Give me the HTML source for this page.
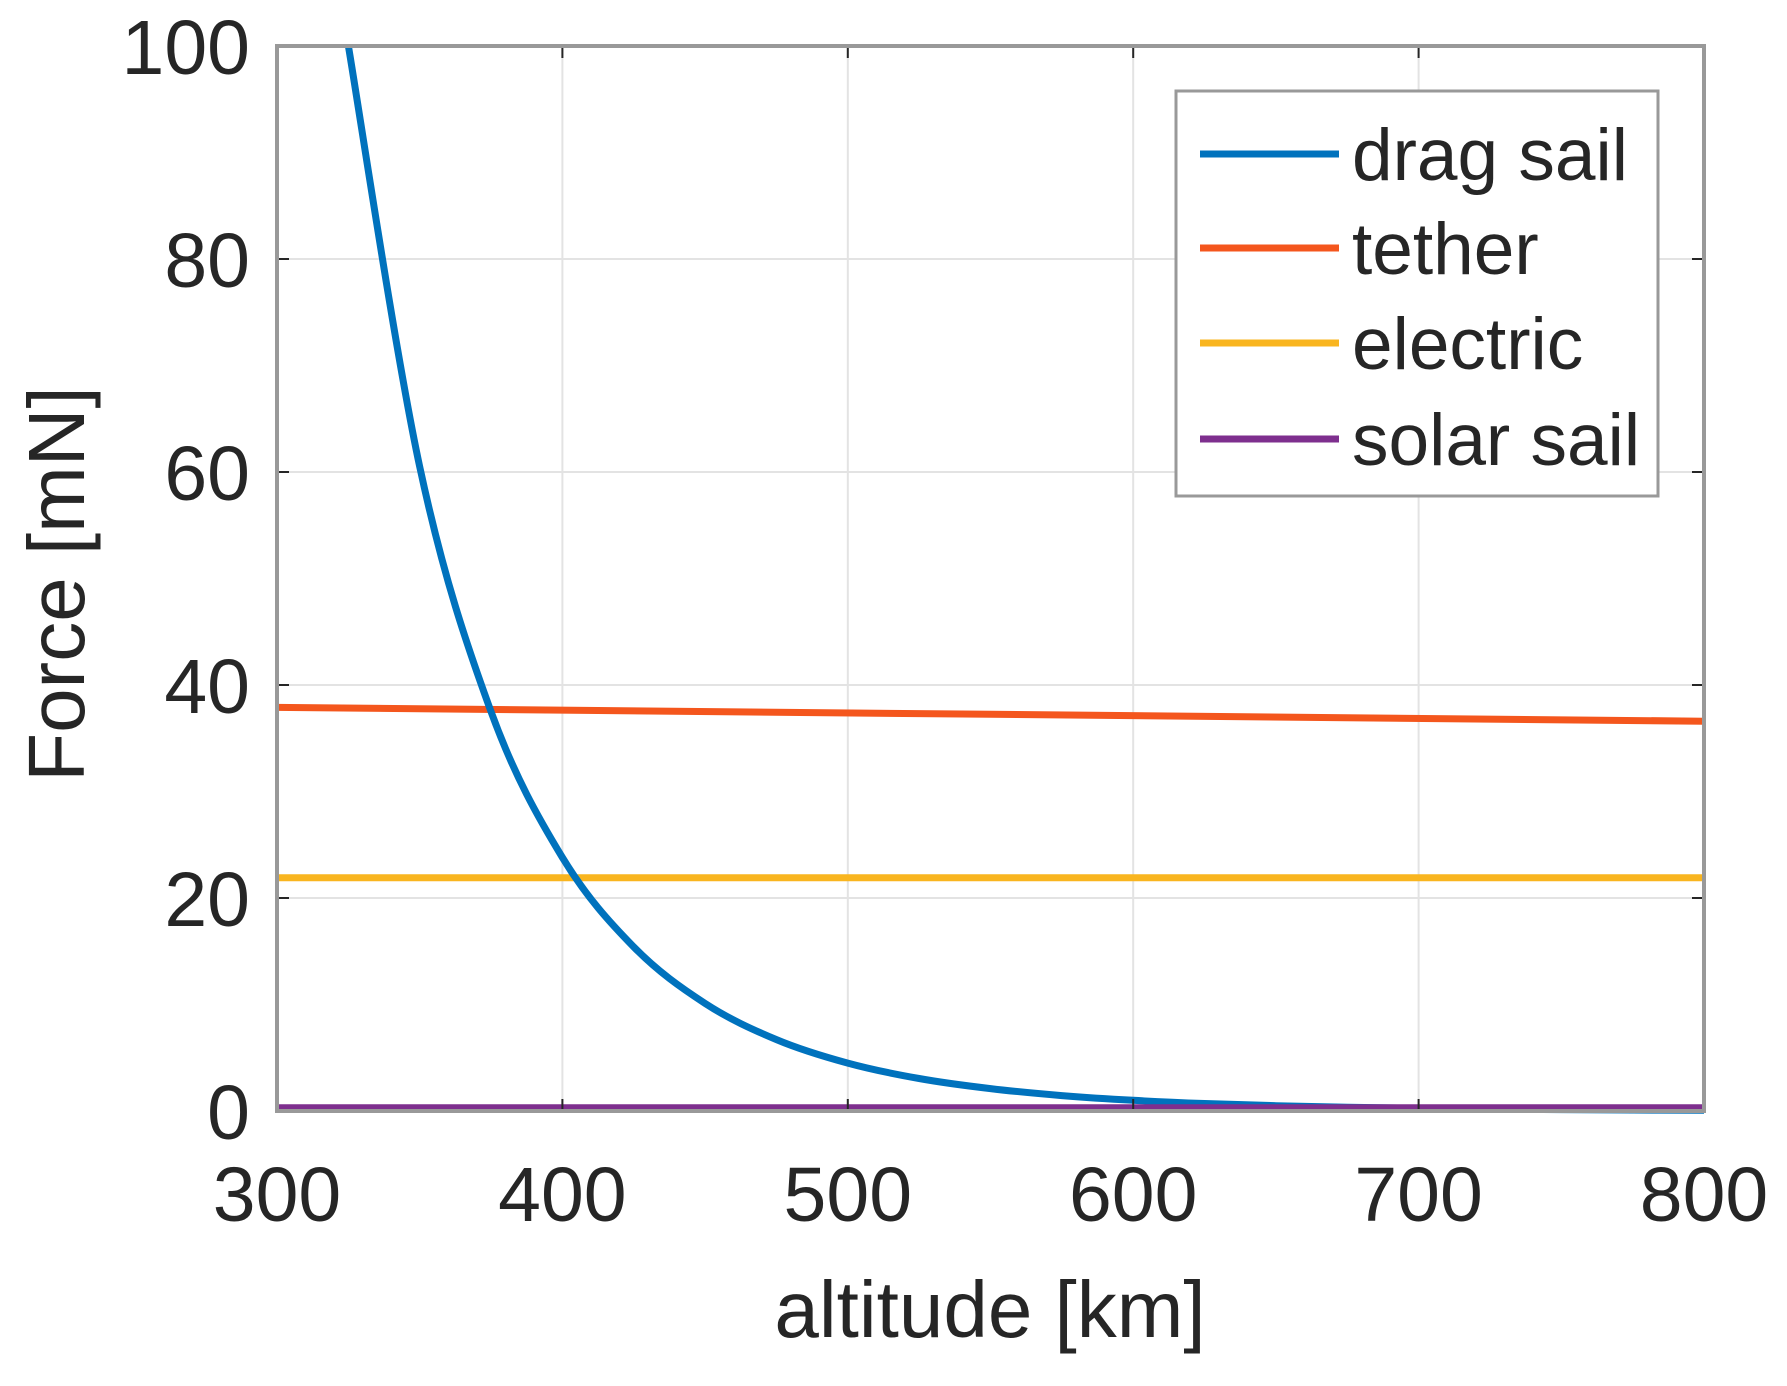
<!DOCTYPE html>
<html><head><meta charset="utf-8"><style>
html,body{margin:0;padding:0;background:#fff;}
svg text{font-family:"Liberation Sans",Arial,sans-serif;fill:#262626;}
</style></head><body>
<svg id="chart" width="1787" height="1381" viewBox="0 0 1787 1381" xmlns="http://www.w3.org/2000/svg">
<g id="grid"></g>
<g id="series"></g>
<g id="axes"></g>
<g id="legend"></g>
</svg>
<script>
const xTicks = [300, 400, 500, 600, 700, 800];
const yTicks = [0, 20, 40, 60, 80, 100];
const dragAlt = [325, 350, 375, 400, 425, 450, 475, 500, 525, 550, 575, 600, 625, 650, 675, 700, 725, 750, 775, 800];
const dragForce = [100, 60.5, 37.5, 23.8, 15.4, 10.1, 6.7, 4.5, 3.05, 2.1, 1.45, 1.0, 0.7, 0.5, 0.35, 0.25, 0.18, 0.13, 0.09, 0.065];
const tetherAlt = [300, 800];
const tetherForce = [37.9, 36.6];
const electricAlt = [300, 800];
const electricForce = [21.9, 21.9];
const solarAlt = [300, 800];
const solarForce = [0.3, 0.3];
const seriesNames = ["drag sail", "tether", "electric", "solar sail"];

const L = 277, R = 1704, T = 46, B = 1111;
const xs = v => L + (v - 300) / 500 * (R - L);
const ys = v => B - v / 100 * (B - T);
const NS = "http://www.w3.org/2000/svg";
function mk(tag, parent, attrs) {
  const e = document.createElementNS(NS, tag);
  for (const k in attrs) e.setAttribute(k, attrs[k]);
  parent.appendChild(e);
  return e;
}
function smoothPath(px, py) {
  let d = 'M' + px[0].toFixed(1) + ',' + py[0].toFixed(1);
  for (let i = 0; i < px.length - 1; i++) {
    const x0 = px[Math.max(i - 1, 0)], y0 = py[Math.max(i - 1, 0)];
    const x1 = px[i], y1 = py[i], x2 = px[i + 1], y2 = py[i + 1];
    const x3 = px[Math.min(i + 2, px.length - 1)], y3 = py[Math.min(i + 2, px.length - 1)];
    const c1x = x1 + (x2 - x0) / 6, c1y = y1 + (y2 - y0) / 6;
    const c2x = x2 - (x3 - x1) / 6, c2y = y2 - (y3 - y1) / 6;
    d += ' C' + [c1x, c1y, c2x, c2y, x2, y2].map(v => v.toFixed(1)).join(',');
  }
  return d;
}
const grid = document.getElementById('grid');
const axes = document.getElementById('axes');
const series = document.getElementById('series');
const legend = document.getElementById('legend');
mk('rect', grid, {x: L, y: T, width: R - L, height: B - T, fill: '#fff'});
xTicks.forEach(t => {
  const g = mk('line', grid, {x1: xs(t), x2: xs(t), y1: T, y2: B, stroke: '#e3e3e3', 'stroke-width': 2});
  
  
  const tk = mk('line', axes, {x1: xs(t), x2: xs(t), y1: B, y2: B - 12, stroke: '#262626', 'stroke-width': 2});
  
  
  const tk2 = mk('line', axes, {x1: xs(t), x2: xs(t), y1: T, y2: T + 12, stroke: '#262626', 'stroke-width': 2});
  
  
  const lb = mk('text', axes, {x: xs(t), y: 1221, 'text-anchor': 'middle', 'font-size': 77});
  lb.textContent = t;
  
  
});
yTicks.forEach(t => {
  const g = mk('line', grid, {x1: L, x2: R, y1: ys(t), y2: ys(t), stroke: '#e3e3e3', 'stroke-width': 2});
  
  
  const tk = mk('line', axes, {x1: L, x2: L + 12, y1: ys(t), y2: ys(t), stroke: '#262626', 'stroke-width': 2});
  
  
  const tk2 = mk('line', axes, {x1: R, x2: R - 12, y1: ys(t), y2: ys(t), stroke: '#262626', 'stroke-width': 2});
  
  
  const lb = mk('text', axes, {x: 250, y: ys(t) + 28, 'text-anchor': 'end', 'font-size': 77});
  lb.textContent = t;
  
  
});
const frame = mk('rect', axes, {x: L, y: T, width: R - L, height: B - T, fill: 'none', stroke: '#999', 'stroke-width': 4});


const xt = mk('text', axes, {x: 990, y: 1337, 'text-anchor': 'middle', 'font-size': 80});
xt.textContent = 'altitude [km]';


const yt = mk('text', axes, {x: 0, y: 0, 'text-anchor': 'middle', 'font-size': 80, transform: 'translate(84,584) rotate(-90)'});
yt.textContent = 'Force [mN]';



const colors = ['#0072BD', '#F4561D', '#F9B51F', '#7E2F8E'];
const data = [[dragAlt, dragForce], [tetherAlt, tetherForce], [electricAlt, electricForce], [solarAlt, solarForce]];
mk('clipPath', document.getElementById('chart'), {id: 'clip'});
mk('rect', document.getElementById('clip'), {x: L - 2, y: T, width: R - L + 4, height: B - T + 6});
[1, 2, 0, 3].forEach(i => {
  const [a, f] = data[i];
  const d = smoothPath(a.map(xs), f.map(ys));
  const pl = mk('path', series, {d: d, fill: 'none', stroke: colors[i], 'stroke-width': 7, 'stroke-linejoin': 'round', 'clip-path': 'url(#clip)'});
  
  
});

const lbox = mk('rect', legend, {x: 1176, y: 91, width: 482, height: 405, fill: '#fff', stroke: '#999', 'stroke-width': 3});


const ly = [154, 248, 343, 439];
seriesNames.forEach((n, i) => {
  const g = mk('g', legend, {});
  
  
  mk('line', g, {x1: 1200, x2: 1339, y1: ly[i], y2: ly[i], stroke: colors[i], 'stroke-width': 7});
  const t = mk('text', g, {x: 1352, y: ly[i] + 26, 'font-size': 73});
  t.textContent = n;
});
</script>
</body></html>
